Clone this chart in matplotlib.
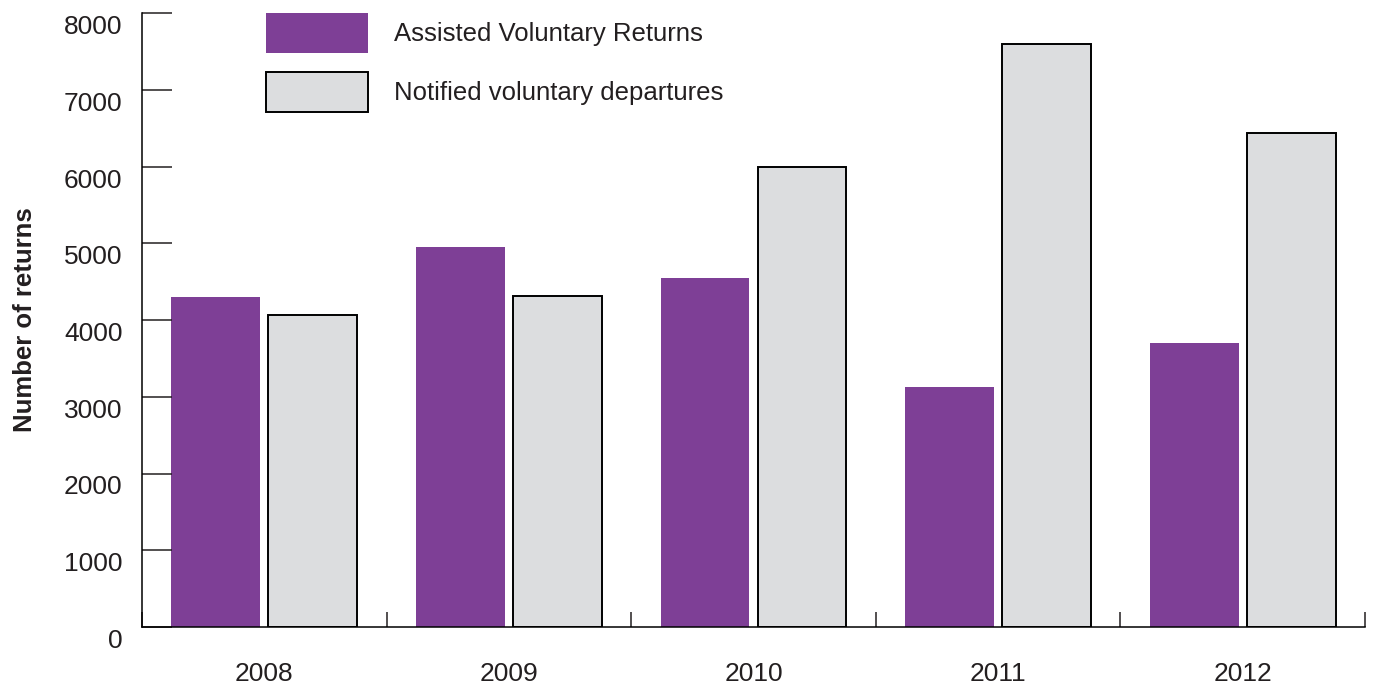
import numpy as np
import matplotlib
matplotlib.use("Agg")
import matplotlib.pyplot as plt
from matplotlib.transforms import ScaledTranslation

years = ["2008", "2009", "2010", "2011", "2012"]
assisted = [4300, 4950, 4550, 3130, 3700]
notified = [4070, 4310, 5990, 7590, 6430]
yticks = [0, 1000, 2000, 3000, 4000, 5000, 6000, 7000, 8000]

PURPLE = "#7E3F96"
GREY = "#DCDDDF"
INK = "#231F20"

plt.rcParams.update({
    "font.family": ["Liberation Sans", "DejaVu Sans"],
    "font.size": 19,
    "text.color": INK,
    "axes.labelcolor": INK,
    "xtick.color": INK,
    "ytick.color": INK,
})

fig = plt.figure(figsize=(13.73, 6.84), dpi=100)
ax = fig.add_axes([142 / 1373, 1 - 627 / 684, (1365 - 142) / 1373, (627 - 13) / 684])

x = np.arange(len(years))
w = 0.363
off = 0.198
ax.bar(x - off, assisted, w, color=PURPLE, linewidth=0, label="Assisted Voluntary Returns")
ax.bar(x + off, notified, w, color=GREY, edgecolor="black", linewidth=1.4,
       label="Notified voluntary departures")

ax.set_xlim(-0.5, len(years) - 0.5)
ax.set_ylim(0, 8000)
ax.set_yticks(yticks)
ax.set_xticks(x)
ax.set_xticklabels(years)
ax.set_xticks(np.arange(-0.5, len(years)), minor=True)
ax.tick_params(axis="y", direction="in", length=21.5, width=1.1, pad=14)
ax.tick_params(axis="x", which="major", length=0, pad=25)
ax.tick_params(axis="x", which="minor", direction="in", length=11, width=1.1)

# y labels sit a little below their ticks in the original
shift = ScaledTranslation(0, -11.5 / 100, fig.dpi_scale_trans)
for lab in ax.get_yticklabels():
    lab.set_transform(lab.get_transform() + shift)

for s in ["top", "right"]:
    ax.spines[s].set_visible(False)
for s in ["left", "bottom"]:
    ax.spines[s].set_linewidth(1.1)
    ax.spines[s].set_color("black")

ax.set_ylabel("Number of returns", fontweight="bold", fontsize=18.5)
ax.yaxis.set_label_coords(-0.086, 0.5)

fig.legend(loc="upper left", bbox_to_anchor=(266 / 1373, 1 - 13 / 684),
           frameon=False, borderpad=0, borderaxespad=0,
           handlelength=3.97, handleheight=2.02, labelspacing=0.74,
           handletextpad=1.0, fontsize=18.5)

fig.savefig("out.png", dpi=100)
